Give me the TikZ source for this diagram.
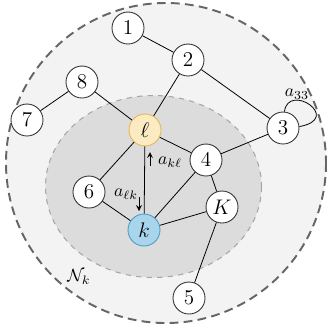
\documentclass[tikz,border=0pt]{standalone}
\usepackage{amsmath}
\definecolor{outergray}{HTML}{F3F3F3}
\definecolor{innergray}{HTML}{DCDCDC}
\definecolor{ellfill}{HTML}{FCEBC2}
\definecolor{elldraw}{HTML}{E2B65A}
\definecolor{kfill}{HTML}{A9D5EC}
\definecolor{kdraw}{HTML}{4C9CC6}
\tikzset{
  vertex/.style={circle,draw=black!80,fill=white,line width=0.5pt,minimum size=0.64cm,inner sep=0pt,font=\large},
  link/.style={line width=0.45pt},
}
\begin{document}
\begin{tikzpicture}[x=0.02cm,y=-0.02cm]
	\useasboundingbox (0,0) rectangle (330,326);
	% neighbourhood regions
	\draw[fill=outergray,draw=black!60,line width=1.1pt,dash pattern=on 5pt off 3pt] (166,163) circle (160);
	\draw[fill=innergray,draw=black!35,dashed,line width=0.6pt] (153.5,186.5) ellipse (108 and 91);
	\node at (79,277) {$\mathcal{N}_k$};
	% agents
	\node[vertex] (n1) at (128,28) {$1$};
	\node[vertex] (n2) at (188,60) {$2$};
	\node[vertex] (n8) at (82,82) {$8$};
	\node[vertex] (n7) at (27,120) {$7$};
	\node[vertex,fill=ellfill,draw=elldraw] (l) at (145,130) {$\ell$};
	\node[vertex] (n3) at (283,128) {$3$};
	\node[vertex] (n4) at (206,160) {$4$};
	\node[vertex] (n6) at (89,192) {$6$};
	\node[vertex] (K) at (222,207) {$K$};
	\node[vertex,fill=kfill,draw=kdraw] (k) at (144,230) {$k$};
	\node[vertex] (n5) at (189,298) {$5$};
	% links
	\draw[link] (n1)--(n2) (n2)--(l) (n2)--(n3) (n8)--(n7) (n8)--(l);
	\draw[link] (n3)--(n4) (l)--(n4) (l)--(n6) (l)--(k) (n6)--(k);
	\draw[link] (n4)--(k) (n4)--(K) (K)--(k) (K)--(n5);
	\draw[link] (n3.85) .. controls +(4,-30) and +(44,-8) .. (n3.5);
	\node at (297,94) {$a_{33}$};
	% weights
	\coordinate (up0) at (150,166);
	\coordinate (up1) at (150,152);
	\coordinate (dn0) at (139,197);
	\coordinate (dn1) at (139,211);
	\draw[->,>=stealth,line width=0.5pt] (up0)--(up1);
	\draw[->,>=stealth,line width=0.5pt] (dn0)--(dn1);
	\node at (170,162) {$a_{k\ell}$};
	\node at (126,194) {$a_{\ell k}$};
\end{tikzpicture}
\end{document}
